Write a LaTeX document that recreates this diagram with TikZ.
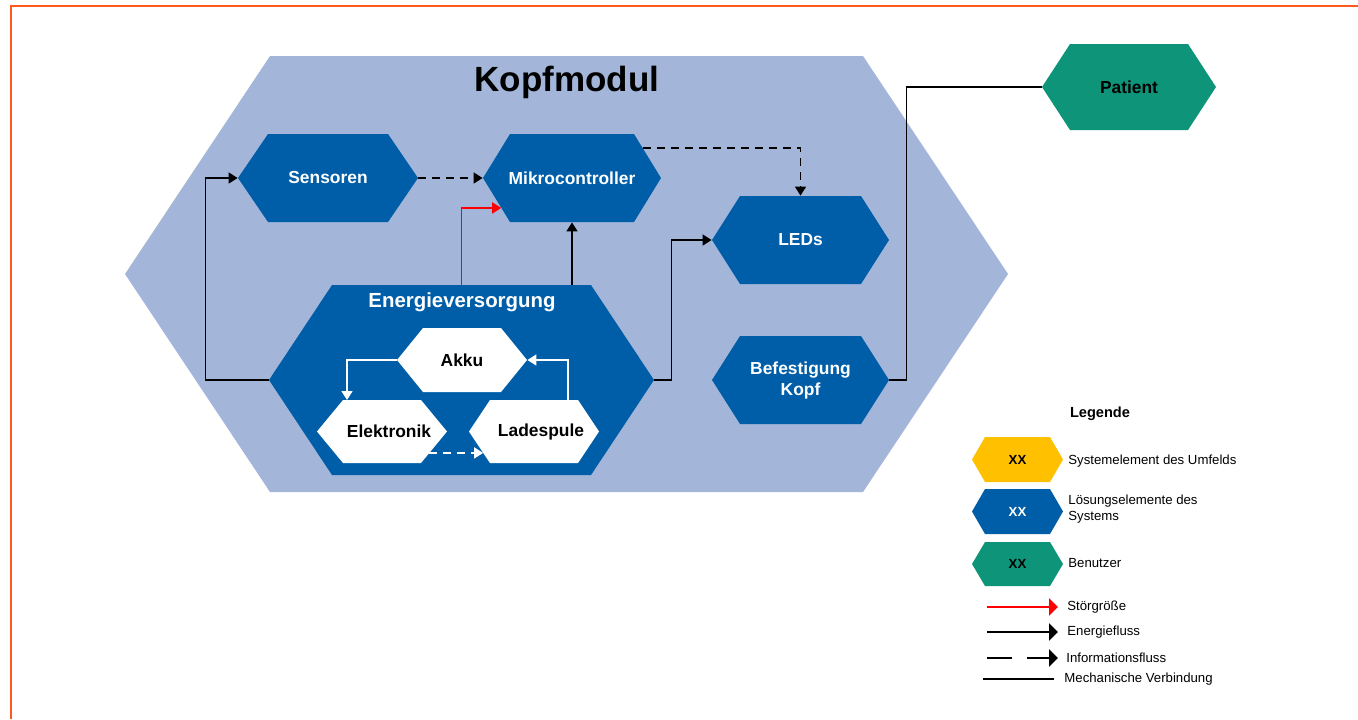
\documentclass[tikz,border=0pt]{standalone}
\usepackage{fontspec}
\setmainfont{Liberation Sans}
\usetikzlibrary{arrows.meta,calc}
\definecolor{kblue}{HTML}{005EA8}
\definecolor{klight}{HTML}{A3B6D9}
\definecolor{kgreen}{HTML}{0E9579}
\definecolor{kyellow}{HTML}{FFC000}
\definecolor{korange}{HTML}{FF5A1E}
% name, cx, cy, half width, half height, point depth, fill colour, node options, text
\newcommand\hexa[9]{%
  \fill[#7] (#2-#4,#3) -- ++(#6,-#5) -- ++({2*#4-2*#6},0) -- ++(#6,#5)
    -- ++(-#6,#5) -- ++({-2*#4+2*#6},0) -- cycle;
  \coordinate (#1-nw) at (#2-#4+#6,#3-#5);
  \coordinate (#1-ne) at (#2+#4-#6,#3-#5);
  \coordinate (#1-sw) at (#2-#4+#6,#3+#5);
  \coordinate (#1-se) at (#2+#4-#6,#3+#5);
  \node[draw=none, inner sep=0pt, minimum width=#4pt, minimum height=#5pt, #8] (#1) at (#2,#3) {#9};%
}
\tikzset{
  lbl/.style={font=\fontsize{8.7}{10.5}\selectfont\bfseries, align=center, text=white},
  lblk/.style={lbl, text=black},
  leg/.style={font=\fontsize{6.6}{8}\selectfont, align=left, anchor=west, inner sep=0pt},
  xx/.style={font=\fontsize{6.6}{8}\selectfont\bfseries},
  energy/.style={draw=black, line width=0.75pt, -{Triangle[length=4.5pt,width=5.5pt]}},
  info/.style={energy, dash pattern=on 4pt off 3pt},
  distr/.style={energy, draw=red},
  mech/.style={draw=black, line width=0.75pt},
  wenergy/.style={energy, draw=white},
  winfo/.style={info, draw=white},
  legarrow/.style={line width=1.4pt, -{Triangle[length=4.5pt,width=8.5pt]}},
}
\begin{document}
\begin{tikzpicture}[x=0.5pt, y=-0.5pt]
\useasboundingbox (0,0) rectangle (1358,719);
\fill[white] (0,0) rectangle (1358,719);
\draw[korange, line width=1pt] (11,719) -- (11,6) -- (1358,6);

% main module
\hexa{K}{566.5}{274}{441.5}{218}{145}{klight}{}{}
\node[font=\fontsize{17.5}{20}\selectfont\bfseries] (ktitle) at (567,82) {Kopfmodul};

\hexa{S}{328}{178}{90}{44}{30}{kblue}{lbl}{Sensoren}
\hexa{M}{572}{178}{89}{44}{27}{kblue}{lbl}{Mikrocontroller}
\hexa{L}{800.5}{240}{88.5}{44}{28}{kblue}{lbl}{LEDs}
\hexa{B}{800.5}{380}{88.5}{44}{28}{kblue}{lbl}{Befestigung\\Kopf}
\hexa{E}{461.5}{380}{192.5}{95}{63}{kblue}{}{}
\node[font=\fontsize{10.2}{12}\selectfont\bfseries, text=white] (elabel) at (462,302) {Energieversorgung};
\hexa{A}{462}{360}{65}{32}{26}{white}{lblk}{Akku}
\hexa{El}{382}{431.5}{65}{31.5}{26}{white}{lblk}{\hspace*{7pt}Elektronik}
\hexa{La}{534}{431.5}{65}{31.5}{21}{white}{lblk}{\hspace*{7pt}Ladespule}
\hexa{P}{1129}{87}{87}{43}{28}{kgreen}{lblk}{Patient}

% connectors
\draw[energy] (E.west) -- ++(-63,0) |- (S.west);
\draw[info] (S.east) -- (M.west);
\draw[distr] (E.north) |- ($(M.west)!0.68!(M-sw)$);
\draw[energy] (E.north -| M.south) -- (M.south);
\draw[info] ($(M-ne)!0.32!(M.east)$) -| (L.north);
\draw[energy] (E.east) -- ++(17,0) |- (L.west);
\draw[mech] (B.east) -- ++(17,0) |- (P.west);
\draw[wenergy] (A.west) -| ($(El-nw)+(4,0)$);
\draw[wenergy] ($(La-ne)+(-10,0)$) |- (A.east);
\draw[winfo] ($(El-se)!0.32!(El.east)$) -- ($(La-sw)!0.32!(La.west)$);

% legend
\node[font=\fontsize{7.3}{9}\selectfont\bfseries] (legtitle) at (1100,414) {Legende};
\hexa{Y1}{1017.5}{459.5}{45.5}{22.5}{13}{kyellow}{xx}{XX}
\hexa{Y2}{1017.5}{511.5}{45.5}{22.5}{13}{kblue}{xx, text=white}{XX}
\hexa{Y3}{1017.5}{564}{45.5}{22}{13}{kgreen}{xx}{XX}
\node[leg] (t1) at (1068,461) {Systemelement des Umfelds};
\node[leg] (t2) at (1068,509.5) {Lösungselemente des\\Systems};
\node[leg] (t3) at (1068,563) {Benutzer};
\node[leg] (t4) at (1067,607) {Störgröße};
\node[leg] (t5) at (1067,632) {Energiefluss};
\node[leg] (t6) at (1066,658) {Informationsfluss};
\node[leg] (t7) at (1064,679) {Mechanische Verbindung};
\coordinate (r1) at (987,607); \coordinate (r2) at (1058,607);
\coordinate (e1) at (987,632); \coordinate (e2) at (1058,632);
\coordinate (i1) at (987,658); \coordinate (i2) at (1058,658);
\coordinate (m1) at (983,679); \coordinate (m2) at (1054,679);
\draw[legarrow, red] (r1) -- (r2);
\draw[legarrow, black] (e1) -- (e2);
\draw[legarrow, black, dash pattern=on 12.5pt off 7.5pt] (i1) -- (i2);
\draw[line width=1.4pt, black] (m1) -- (m2);
\end{tikzpicture}
\end{document}
